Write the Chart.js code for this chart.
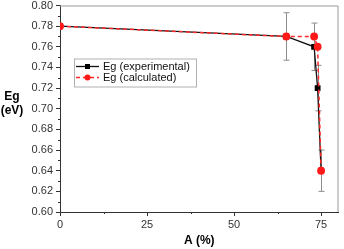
<!DOCTYPE html>
<html>
<head>
<meta charset="utf-8">
<script src="https://cdn.jsdelivr.net/npm/chart.js@4.4.1/dist/chart.umd.min.js"></script>
<style>
  html, body { margin: 0; padding: 0; background: #fff; }
</style>
</head>
<body>
<canvas id="egChart" width="344" height="249"></canvas>
<script>
// A (%) values and band gaps
const aValues = [0, 65, 73, 74, 75];
const egExperimental = [0.78, 0.77, 0.76, 0.72, 0.64];
const egCalculated = [0.78, 0.77, 0.77, 0.76, 0.64];
const egError = [0, 0.023, 0.023, 0.022, 0.02];
const xTicks = [0, 25, 50, 75];
const yTicks = [0.60, 0.62, 0.64, 0.66, 0.68, 0.70, 0.72, 0.74, 0.76, 0.78, 0.80];

const axisColor = "#333";
const font = "Liberation Sans, Arial, sans-serif";

const toPoints = ys => aValues.map((x, i) => ({ x: x, y: ys[i] }));

// gray error bars on the experimental series
const errorBars = {
  id: "errorBars",
  beforeDatasetsDraw(chart) {
    const { ctx, scales: { x, y } } = chart;
    ctx.save();
    ctx.strokeStyle = "#8c8c8c";
    ctx.lineWidth = 1;
    aValues.forEach((a, i) => {
      if (!egError[i]) return;
      const px = Math.round(x.getPixelForValue(a)) + 0.5;
      const top = y.getPixelForValue(egExperimental[i] + egError[i]);
      const bot = y.getPixelForValue(egExperimental[i] - egError[i]);
      ctx.beginPath();
      ctx.moveTo(px, top); ctx.lineTo(px, bot);
      ctx.moveTo(px - 3, top); ctx.lineTo(px + 3, top);
      ctx.moveTo(px - 3, bot); ctx.lineTo(px + 3, bot);
      ctx.stroke();
    });
    ctx.restore();
  }
};

// frame, minor ticks, y title and boxed legend
const decorations = {
  id: "decorations",
  afterDraw(chart) {
    const { ctx, chartArea: area, scales: { x, y } } = chart;
    ctx.save();

    ctx.strokeStyle = "#9a9a9a";
    ctx.lineWidth = 1;
    ctx.beginPath();
    ctx.moveTo(area.left, area.top + 0.5);
    ctx.lineTo(area.right - 0.5, area.top + 0.5);
    ctx.lineTo(area.right - 0.5, area.bottom);
    ctx.stroke();

    ctx.strokeStyle = axisColor;
    ctx.beginPath();
    for (let v = 0.61; v < 0.8; v += 0.02) {
      const py = Math.round(y.getPixelForValue(v)) + 0.5;
      ctx.moveTo(area.left, py); ctx.lineTo(area.left - 2, py);
    }
    [12.5, 37.5, 62.5].forEach(v => {
      const px = Math.round(x.getPixelForValue(v)) + 0.5;
      ctx.moveTo(px, area.bottom); ctx.lineTo(px, area.bottom + 2);
    });
    ctx.stroke();

    // y axis title, horizontal
    const mid = (area.top + area.bottom) / 2;
    ctx.fillStyle = "#000";
    ctx.font = "bold 12px " + font;
    ctx.textAlign = "center";
    ctx.textBaseline = "middle";
    ctx.fillText("Eg", 12, mid - 12);
    ctx.fillText("(eV)", 12, mid + 2);

    // legend
    const lx = area.left + 14, ly = area.top + 53;
    ctx.strokeStyle = "#b0b0b0";
    ctx.strokeRect(lx + 0.5, ly + 0.5, 122, 28);
    ctx.font = "11px " + font;
    ctx.textAlign = "left";
    chart.data.datasets.slice().reverse().forEach((ds, i) => {
      const ry = ly + 8 + i * 11;
      ctx.strokeStyle = ds.borderColor;
      ctx.lineWidth = ds.borderWidth;
      ctx.setLineDash(ds.borderDash || []);
      ctx.beginPath();
      ctx.moveTo(lx + 2, ry); ctx.lineTo(lx + 25, ry);
      ctx.stroke();
      ctx.setLineDash([]);
      ctx.fillStyle = ds.pointBackgroundColor;
      if (ds.pointStyle === "rect") {
        ctx.fillRect(lx + 11, ry - 2.5, 5, 5);
      } else {
        ctx.beginPath();
        ctx.arc(lx + 13.5, ry, 3, 0, Math.PI * 2);
        ctx.fill();
      }
      ctx.fillStyle = "#111";
      ctx.fillText(ds.label, lx + 29, ry + 0.5);
    });
    ctx.restore();
  }
};

new Chart(document.getElementById("egChart"), {
  type: "scatter",
  data: {
    datasets: [
      {
        label: "Eg (calculated)",
        data: toPoints(egCalculated),
        showLine: true,
        borderColor: "#ff2a2a",
        borderWidth: 1.5,
        borderDash: [4, 3],
        pointStyle: "circle",
        pointRadius: 3.2,
        pointBackgroundColor: "#ff1a1a",
        pointBorderColor: "#ff1a1a",
        order: 0
      },
      {
        label: "Eg (experimental)",
        data: toPoints(egExperimental),
        showLine: true,
        borderColor: "#111",
        borderWidth: 1.3,
        pointStyle: "rect",
        pointRadius: 3.2,
        pointBackgroundColor: "#000",
        pointBorderColor: "#000",
        order: 1
      }
    ]
  },
  options: {
    responsive: false,
    animation: false,
    devicePixelRatio: 1,
    layout: { padding: { top: 5, right: 3, left: 0, bottom: 0 } },
    plugins: { legend: { display: false }, tooltip: { enabled: false } },
    scales: {
      x: {
        type: "linear",
        min: 0,
        max: 80,
        afterBuildTicks: s => { s.ticks = xTicks.map(v => ({ value: v })); },
        afterFit: s => { s.height = 37; s.paddingLeft = 0; s.paddingRight = 0; },
        ticks: { color: axisColor, font: { family: font, size: 11 }, padding: 2, maxRotation: 0 },
        grid: { drawOnChartArea: false, tickLength: 4, color: axisColor },
        border: { color: axisColor, width: 1 },
        title: {
          display: true,
          text: "A (%)",
          color: "#000",
          font: { family: font, size: 12, weight: "bold" },
          padding: { top: 2, bottom: 1 }
        }
      },
      y: {
        type: "linear",
        min: 0.6,
        max: 0.8,
        afterBuildTicks: s => { s.ticks = yTicks.map(v => ({ value: v })); },
        afterFit: s => { s.width = 60; s.paddingTop = 0; s.paddingBottom = 0; },
        ticks: { color: axisColor, font: { family: font, size: 11 }, padding: 3, callback: v => v.toFixed(2) },
        grid: { drawOnChartArea: false, tickLength: 4, color: axisColor },
        border: { color: axisColor, width: 1 }
      }
    }
  },
  plugins: [errorBars, decorations]
});
</script>
</body>
</html>
